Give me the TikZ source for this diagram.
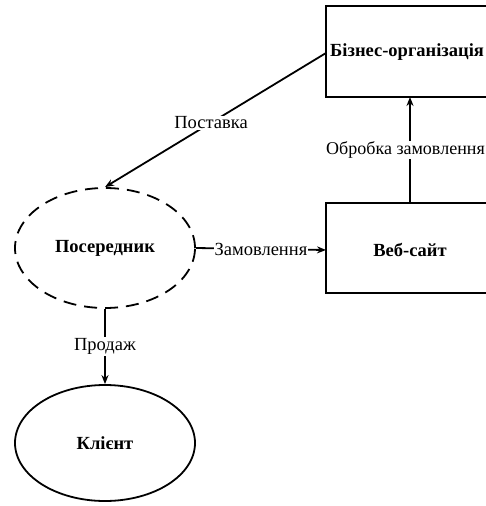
\documentclass[tikz,border=0pt]{standalone}
\usepackage{fontspec}
\setmainfont{Liberation Serif}
\usetikzlibrary{shapes.geometric,arrows.meta}
\begin{document}
\begin{tikzpicture}[x=1pt,y=-1pt,
  txt/.style={font=\fontsize{18.5}{20}\selectfont},
  btxt/.style={font=\fontsize{18.5}{20}\selectfont\bfseries},
  conn/.style={line width=1.8pt,-{Stealth[length=9pt,width=7pt]}},
  lbl/.style={txt,fill=white,inner sep=1pt},
  ell/.style={draw,line width=1.8pt,ellipse,btxt}]
\useasboundingbox (0,0) rectangle (486,506);
\clip (0,0) rectangle (486,506);
\draw[line width=1.8pt] (326,6) rectangle (520,97);
\node[anchor=west,inner sep=0pt,btxt] (biz) at (330,52) {Бізнес-організація};
\coordinate (bizL) at (326,53);
\coordinate (bizB) at (410,97);
\draw[line width=1.8pt] (326,203) rectangle (520,293);
\node[btxt] (web) at (410,250) {Веб-сайт};
\coordinate (webL) at (326,250);
\coordinate (webT) at (410,203);
\node[ell,dash pattern=on 13pt off 8pt,minimum width=180pt,minimum height=120pt] (pos) at (105,248) {Посередник};
\node[ell,minimum width=180pt,minimum height=116pt] (kl) at (105,443) {Клієнт};
\draw[conn] (bizL) -- node[lbl,pos=0.52] {Поставка} (pos.north);
\draw[conn] (pos.east) -- node[lbl] {Замовлення} (webL);
\draw[conn] (webT) -- node[lbl,font=\fontsize{18}{20}\selectfont,xshift=-4.5pt] {Обробка замовлення} (bizB);
\draw[conn] (pos.south) -- node[lbl] {Продаж} (kl.north);
\end{tikzpicture}
\end{document}
